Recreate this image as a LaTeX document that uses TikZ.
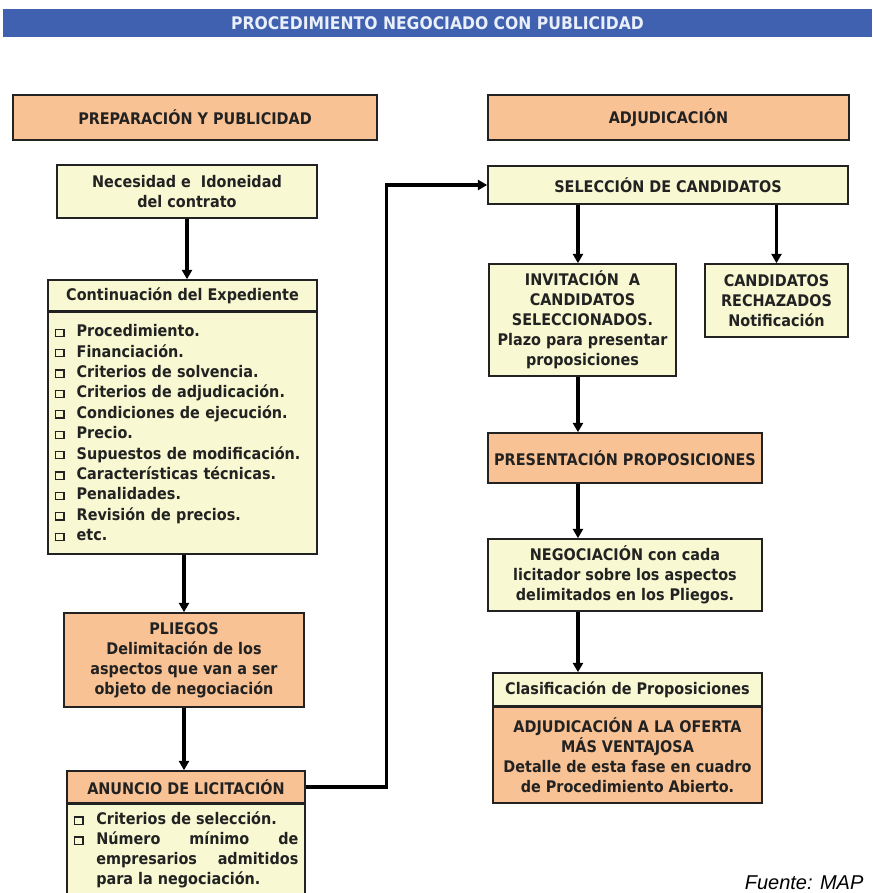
\documentclass[tikz,border=0pt]{standalone}
\usepackage{fontspec}
\usepackage{tikz}
\usetikzlibrary{arrows.meta}
\setmainfont{DejaVu Sans}[FakeStretch=0.9]
\newfontfamily\srcfont{Liberation Sans}
\definecolor{barblue}{RGB}{64,96,176}
\definecolor{bartext}{RGB}{234,240,250}
\definecolor{peach}{RGB}{249,194,148}
\definecolor{cream}{RGB}{248,248,210}
\definecolor{ink}{RGB}{34,34,34}
\newcommand{\sqb}{\raisebox{0.6pt}{\setlength{\fboxsep}{0pt}\setlength{\fboxrule}{0.9pt}\fbox{\rule{0pt}{4.6pt}\rule{5.6pt}{0pt}}}}

\begin{document}
\begin{tikzpicture}[x=0.75pt,y=-0.75pt,
    every node/.style={draw=ink,line width=1.2pt,inner sep=0pt,text=ink,align=center,
        font=\bfseries\fontsize{12}{15}\selectfont},
    peachbox/.style={fill=peach},
    creambox/.style={fill=cream},
    arr/.style={draw=black,line width=2.7pt,-{Triangle[length=7pt,width=7.5pt]}}]
    \useasboundingbox (0,0) rectangle (872,893);

            % cabecera
            \node[fill=barblue,draw=none,text=bartext,minimum width=651.75pt,minimum height=21pt,
                font=\bfseries\fontsize{13}{15}\selectfont] (title) at (437.5,23) {PROCEDIMIENTO NEGOCIADO CON PUBLICIDAD};

            % columna izquierda
            \node[peachbox,minimum width=273pt,minimum height=33.75pt] (prep) at (195,117.5) {PREPARACIÓN Y PUBLICIDAD};
            \node[creambox,minimum width=195pt,minimum height=39.75pt] (nec) at (187,191.5) {Necesidad e\ \ Idoneidad\\del contrato};
            \node[creambox,minimum width=201.75pt,minimum height=23.25pt] (conth) at (182.5,295.5) {Continuación del Expediente};
            \node[creambox,anchor=north,minimum width=201.75pt,minimum height=181.5pt,inner xsep=5pt,
                text width=191.75pt,align=left,font=\bfseries\fontsize{12}{15.3}\selectfont] (contb) at (182.5,311) {%
                \makebox[16.5pt][l]{\sqb}Procedimiento.\\
                \makebox[16.5pt][l]{\sqb}Financiación.\\
                \makebox[16.5pt][l]{\sqb}Criterios de solvencia.\\
                \makebox[16.5pt][l]{\sqb}Criterios de adjudicación.\\
                \makebox[16.5pt][l]{\sqb}Condiciones de ejecución.\\
                \makebox[16.5pt][l]{\sqb}Precio.\\
                \makebox[16.5pt][l]{\sqb}Supuestos de modificación.\\
                \makebox[16.5pt][l]{\sqb}Características técnicas.\\
                \makebox[16.5pt][l]{\sqb}Penalidades.\\
                \makebox[16.5pt][l]{\sqb}Revisión de precios.\\
                \makebox[16.5pt][l]{\sqb}etc.};
            \node[peachbox,minimum width=180pt,minimum height=70.5pt] (pliegos) at (184,660) {PLIEGOS\\Delimitación de los\\aspectos que van a ser\\objeto de negociación};
            \node[peachbox,minimum width=178.5pt,minimum height=24pt] (anh) at (186,787) {ANUNCIO DE LICITACIÓN};
            \node[creambox,anchor=north,minimum width=178.5pt,inner xsep=5pt,inner ysep=6pt,
                text width=168.5pt,align=justify] (anb) at (186,803) {%
                \hangindent=17pt\hangafter=1\noindent\makebox[17pt][l]{\sqb}Criterios de selección.\par
                \hangindent=17pt\hangafter=1\noindent\makebox[17pt][l]{\sqb}Número mínimo de\linebreak
                empresarios admitidos\linebreak para la negociación.\par};

            % columna derecha
            \node[peachbox,minimum width=270.75pt,minimum height=33.75pt] (adj) at (668.5,117.5) {ADJUDICACIÓN};
            \node[creambox,minimum width=270pt,minimum height=28.5pt] (sel) at (668,185) {SELECCIÓN DE CANDIDATOS};
            \node[creambox,minimum width=140.25pt,minimum height=84pt] (inv) at (582.5,320) {INVITACIÓN\ \ A\\CANDIDATOS\\SELECCIONADOS.\\Plazo para presentar\\proposiciones};
            \node[creambox,minimum width=107.25pt,minimum height=54.75pt] (rech) at (776.5,300.5) {CANDIDATOS\\RECHAZADOS\\Notificación};
            \node[peachbox,minimum width=205.5pt,minimum height=37.5pt] (pres) at (625,458) {PRESENTACIÓN PROPOSICIONES};
            \node[creambox,minimum width=205.5pt,minimum height=54pt] (neg) at (625,575) {NEGOCIACIÓN con cada\\licitador sobre los aspectos\\delimitados en los Pliegos.};
            \node[creambox,minimum width=201.75pt,minimum height=24.75pt] (clash) at (627.5,689.5) {Clasificación de Proposiciones};
            \node[peachbox,anchor=north,minimum width=201.75pt,minimum height=72pt] (clasb) at (627.5,706) {ADJUDICACIÓN A LA OFERTA\\MÁS VENTAJOSA\\Detalle de esta fase en cuadro\\de Procedimiento Abierto.};

            \node[draw=none,anchor=base west,text=black,font=\srcfont\itshape\fontsize{15}{18}\selectfont] (src) at (744,889) {Fuente: MAP};

            % flechas
            \draw[arr] (nec.south) -- (nec.south |- conth.north);
            \draw[arr] (pliegos.north |- contb.south) -- (pliegos.north);
            \draw[arr] (pliegos.south) -- (pliegos.south |- anh.north);
            \coordinate (bend) at (386.5,500);
            \draw[arr,line join=miter] (anh.east) -| (bend) |- (sel.west);
            \draw[arr] ([xshift=-3.4pt]inv.north |- sel.south) -- ([xshift=-3.4pt]inv.north);
            \draw[arr] (rech.north |- sel.south) -- (rech.north);
            \draw[arr] ([xshift=-3.4pt]inv.south) -- ([xshift=-3.4pt]inv.south |- pres.north);
            \draw[arr] ([xshift=-3.4pt]inv.south |- pres.south) -- ([xshift=-3.4pt]inv.south |- neg.north);
            \draw[arr] ([xshift=-3.4pt]inv.south |- neg.south) -- ([xshift=-3.4pt]inv.south |- clash.north);
        \end{tikzpicture}
\end{document}
